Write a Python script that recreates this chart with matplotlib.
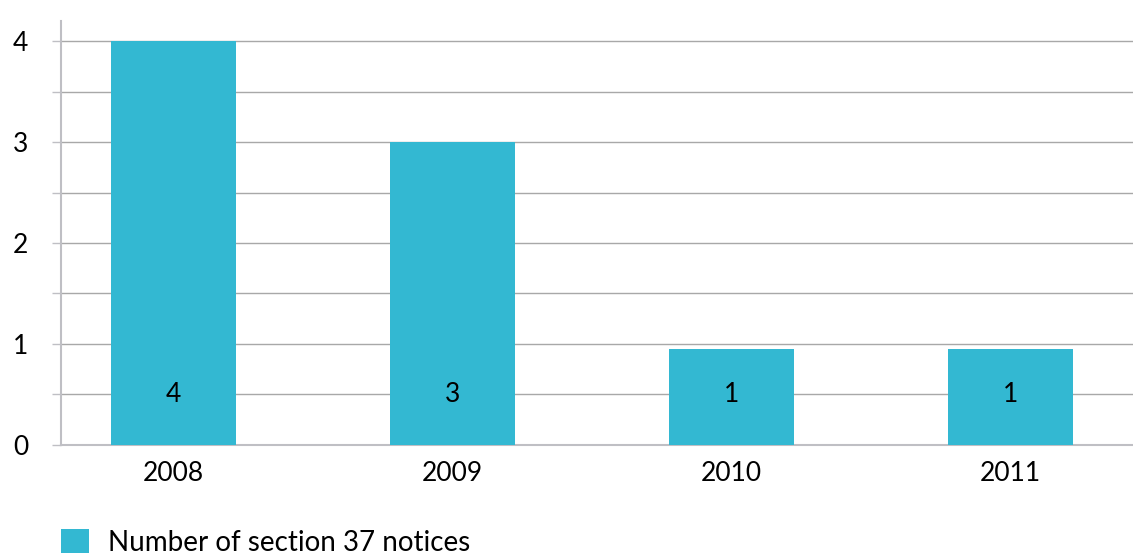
import matplotlib.pyplot as plt
from matplotlib.ticker import MultipleLocator

# data
years = ['2008', '2009', '2010', '2011']
notices = [4, 3, 0.95, 0.95]
notice_labels = ['4', '3', '1', '1']
series_name = 'Number of section 37 notices'

bar_color = '#33B8D2'
grid_color = '#A8A8A8'
axis_color = '#BFBFC4'

plt.rcParams['font.family'] = ['Lato', 'DejaVu Sans']

fig = plt.figure(figsize=(11.33, 5.56), dpi=100, facecolor='white')
ax = fig.add_axes([0.0538, 0.2, 0.9462, 0.762])

x = range(len(years))
bars = ax.bar(x, notices, width=0.448, color=bar_color, zorder=3, label=series_name)

# value labels sit low inside each bar
for xi, lab in zip(x, notice_labels):
    ax.text(xi, 0.5, lab, ha='center', va='center', fontsize=19, color='black', zorder=4)

ax.set_xlim(-0.403, 3.439)
ax.set_ylim(0, 4.2)
ax.set_xticks(list(x))
ax.set_xticklabels(years)
ax.yaxis.set_major_locator(MultipleLocator(1))
ax.yaxis.set_minor_locator(MultipleLocator(0.5))

ax.grid(axis='y', which='both', color=grid_color, linewidth=1.0, zorder=0)
ax.tick_params(axis='x', length=0, pad=12, labelsize=19)
ax.tick_params(axis='y', which='both', length=6.5, width=1.0, color=axis_color,
               pad=17, labelsize=19)

for side in ['top', 'right']:
    ax.spines[side].set_visible(False)
for side in ['left', 'bottom']:
    ax.spines[side].set_color(axis_color)
    ax.spines[side].set_linewidth(1.5)

fig.legend(handles=[bars], labels=[series_name], loc='center left',
           bbox_to_anchor=(0.0538, 0.025), frameon=False, fontsize=20,
           handlelength=1.0, handleheight=1.0, handletextpad=0.7,
           borderpad=0, borderaxespad=0)

fig.savefig('out.png', dpi=100)
